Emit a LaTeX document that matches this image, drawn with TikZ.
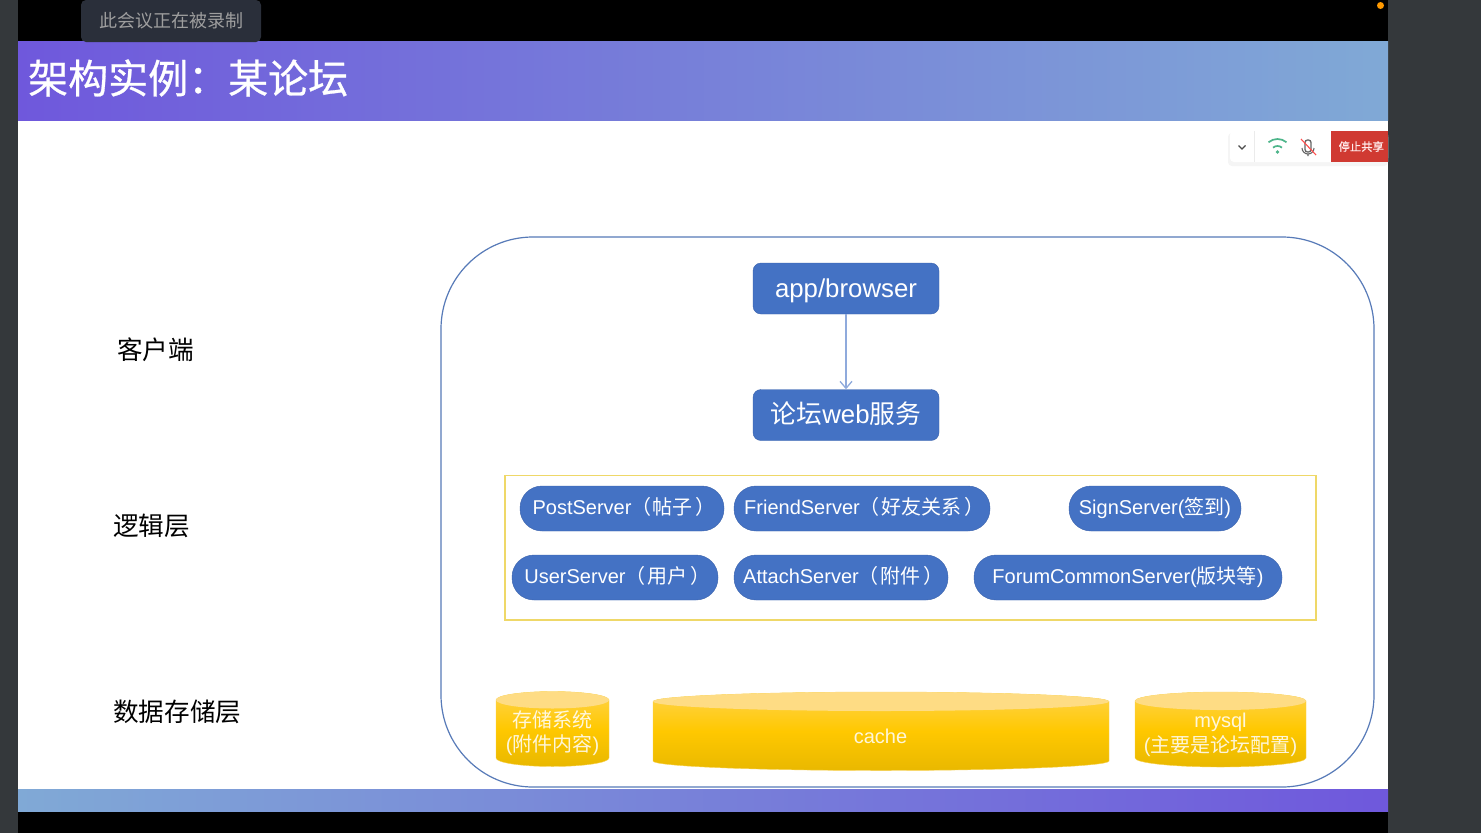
\documentclass[tikz,border=0pt]{standalone}
\usepackage{fontspec}
\setmainfont{Liberation Sans}
\newfontfamily\cjk{Noto Sans CJK SC}
\newfontfamily\cjkheavy[FakeBold=0.7]{Noto Sans CJK SC}
\usetikzlibrary{arrows.meta}
\definecolor{slideblue}{HTML}{4472C4}
\definecolor{slideedge}{HTML}{3A62AC}
\definecolor{arrowcol}{HTML}{8FAADC}
\definecolor{framecol}{HTML}{34383B}
\definecolor{tipcol}{HTML}{2A2F3A}
\definecolor{headl}{HTML}{6F58DC}
\definecolor{headr}{HTML}{80A9D6}
\definecolor{cyledge}{HTML}{F9D252}
\definecolor{cyltop}{HTML}{FFD34A}
\definecolor{cylmid}{HTML}{FFC800}
\definecolor{cylbot}{HTML}{E9B800}
\definecolor{cylcap}{HTML}{FEDC84}
\definecolor{wificol}{HTML}{4DB58A}
\definecolor{stopcol}{HTML}{D03A32}
\definecolor{groupcol}{HTML}{EFD868}
\newcommand{\paren}[1]{{\cjk（\kern1.5pt #1\kern3pt）}\kern-4.5pt}
\tikzset{
  boxnode/.style={draw=slideedge, fill=slideblue, rounded corners=8pt, text=white, minimum width=186pt, minimum height=51pt, text height=20pt, text depth=3pt, inner sep=0pt, font=\fontsize{25.8}{28}\selectfont},
  pillnode/.style={draw=slideedge, fill=slideblue, rounded corners=22pt, text=white, minimum height=45pt, inner sep=0pt, text height=15pt, text depth=3pt, font=\fontsize{20}{24}\selectfont},
  layernode/.style={anchor=west, inner sep=0pt, font=\cjk\fontsize{25.6}{28}\selectfont},
  cyltext/.style={text=white, text opacity=0.85, align=center, font=\fontsize{20}{24.5}\selectfont}
}
\begin{document}
\begin{tikzpicture}[x=1pt, y=-1pt]
    \useasboundingbox (0,0) rectangle (1481,833);
    \fill[framecol] (0,0) rectangle (1481,833);
    \fill[black] (18,0) rectangle (1388,833);
    \fill[white] (18,120.5) rectangle (1388,789);
    \shade[left color=headl, right color=headr] (18,41) rectangle (1388,120.5);
    \shade[left color=headr, right color=headl] (18,789) rectangle (1388,811.5);
    \node[anchor=west, text=white, inner sep=0pt, font=\cjkheavy\fontsize{40}{44}\selectfont] (title) at (28,78) {架构实例：某论坛};
    \node[fill=tipcol, rounded corners=5pt, minimum width=180pt, minimum height=42pt, inner sep=0pt, text=white!62!black, font=\cjk\fontsize{18}{20}\selectfont] (recording) at (171,21) {此会议正在被录制};
    \fill[orange!80!yellow] (1380.5,5.5) circle (3.5pt);

    \fill[black!4, rounded corners=4pt] (1228,133) rectangle (1388,166);
    \fill[white, rounded corners=4pt] (1230,131) rectangle (1388,162);
    \draw[black!8] (1254.5,131) -- (1254.5,162);
    \draw[black!70, line width=1.3pt] (1238.5,145.5) -- (1242,149) -- (1245.5,145.5);
    \foreach \r in {7,14} \draw[wificol, line width=1.7pt] (1277.5,153) ++(50:\r pt) arc [start angle=50, end angle=130, radius=\r pt];
    \fill[wificol] (1277.5,152) circle (1.8pt);
    \draw[black!60, line width=1.3pt, rounded corners=2.5pt] (1305,140) rectangle (1311,152);
    \draw[black!60, line width=1.1pt] (1302,148) arc [start angle=180, end angle=360, radius=6pt] (1308,154) -- (1308,156);
    \draw[red!70!white, line width=1.1pt] (1301,139) -- (1316,155);
    \node[fill=stopcol, minimum width=56.5pt, minimum height=31pt, inner sep=0pt, text=white!92!red, font=\cjkheavy\fontsize{11.3}{13}\selectfont] (stopshare) at (1359.25,146.5) {\kern4pt 停止共享};

    \node[layernode] (client) at (117,350) {客户端};
    \node[layernode] (logic) at (113,526) {逻辑层};
    \node[layernode] (storage) at (113,712) {数据存储层};

    \draw[slideedge!85!white, line width=1.2pt, rounded corners=92pt] (441,237) rectangle (1374,787);
    \draw[groupcol, line width=1.1pt] (505,475.5) rectangle (1316,620);

    \node[boxnode] (app) at (846,288.5) {app/browser};
    \node[boxnode] (forum) at (846,415) {{\cjk 论坛}web{\cjk 服务}};
    \draw[-{Straight Barb[length=7pt,width=12pt]}, arrowcol, line width=1.3pt] (app) -- (forum);

    \node[pillnode, minimum width=204pt] (post) at (622,508.5) {PostServer\paren{帖子}};
    \node[pillnode, minimum width=256pt] (friend) at (862,508.5) {FriendServer\paren{好友关系}};
    \node[pillnode, minimum width=172pt] (sign) at (1155,508.5) {SignServer({\cjk 签到})};
    \node[pillnode, minimum width=206pt] (user) at (615,577.5) {UserServer\paren{用户}};
    \node[pillnode, minimum width=214pt] (attach) at (841,577.5) {AttachServer\paren{附件}};
    \node[pillnode, minimum width=308pt] (common) at (1128,577.5) {ForumCommonServer({\cjk 版块等})};

    \foreach \xa/\xb/\yc/\yd/\ry in {496/609/700/758/8.5, 653/1109/701.5/761/9.5, 1135/1306/701/758/9} {
      \pgfmathsetmacro{\rx}{(\xb-\xa)/2}
      \shade[top color=cyltop, bottom color=cylbot, middle color=cylmid, draw=cyledge] (\xa,\yc) -- (\xa,\yd) arc [start angle=180, end angle=360, x radius=\rx pt, y radius=\ry pt] -- (\xb,\yc) arc [start angle=0, end angle=180, x radius=\rx pt, y radius=\ry pt] -- cycle;
      \fill[cylcap] (\xa,\yc) arc [start angle=180, end angle=540, x radius=\rx pt, y radius=\ry pt];
    }
    \node[cyltext] (files) at (552.5,733) {{\cjk 存储系统}\\({\cjk 附件内容})};
    \node[cyltext] (cache) at (880.5,736.5) {cache};
    \node[cyltext] (mysql) at (1220.5,735) {mysql\\({\cjk 主要是论坛配置})};
  \end{tikzpicture}
\end{document}
